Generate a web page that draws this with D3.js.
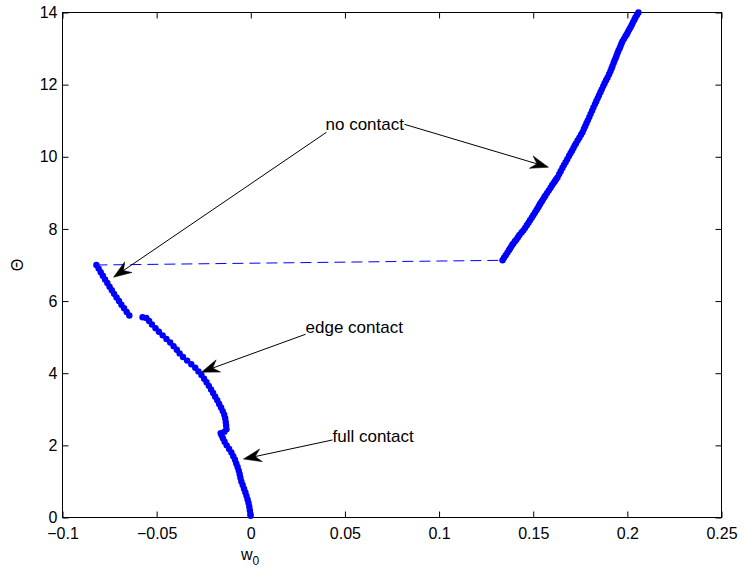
<!DOCTYPE html>
<html>
<head>
<meta charset="utf-8">
<script src="https://cdn.jsdelivr.net/npm/d3@7"></script>
<style>
  html, body { margin: 0; padding: 0; background: #fff; }
  svg { display: block; font-family: "Liberation Sans", Arial, Helvetica, sans-serif; }
</style>
</head>
<body>
<svg id="chart" width="744" height="574"></svg>
<script>
// ---------------- data ----------------
// no-contact -> edge branch (upper-left short segment)
const segA_w0 = [-0.0820, -0.0808, -0.0797, -0.0786, -0.0774, -0.0762, -0.0750, -0.0738, -0.0726, -0.0713, -0.0700, -0.0687, -0.0673, -0.0659, -0.0645];
const segA_theta = [7.00, 6.90, 6.80, 6.70, 6.60, 6.50, 6.40, 6.30, 6.20, 6.10, 6.00, 5.90, 5.80, 5.70, 5.60];

// edge contact + full contact branch
const segB_w0 = [-0.0575, -0.0555, -0.0540, -0.0525, -0.0506, -0.0488, -0.0468, -0.0448, -0.0428, -0.0410,
                 -0.0393, -0.0378, -0.0360, -0.0338, -0.0316, -0.0295, -0.0278, -0.0262, -0.0248, -0.0235,
                 -0.0223, -0.0211, -0.0200, -0.0189, -0.0178, -0.0168, -0.0158, -0.0149, -0.0141, -0.0136,
                 -0.0133, -0.0131, -0.0129, -0.0140, -0.0160, -0.0155, -0.0148, -0.0139, -0.0128, -0.0115,
                 -0.0103, -0.0093, -0.0084, -0.0077, -0.0070, -0.0064, -0.0059, -0.0055, -0.0050, -0.0043,
                 -0.0036, -0.0029, -0.0023, -0.0017, -0.0012, -0.0008, -0.0005, -0.0002, -0.0001];
const segB_theta = [5.55, 5.53, 5.45, 5.35, 5.25, 5.15, 5.05, 4.95, 4.85, 4.75,
                    4.65, 4.55, 4.45, 4.35, 4.25, 4.15, 4.05, 3.95, 3.85, 3.75,
                    3.65, 3.55, 3.45, 3.35, 3.25, 3.15, 3.05, 2.95, 2.85, 2.75,
                    2.65, 2.55, 2.45, 2.38, 2.34, 2.28, 2.20, 2.10, 2.00, 1.90,
                    1.80, 1.70, 1.60, 1.50, 1.40, 1.30, 1.20, 1.10, 1.00, 0.90,
                    0.80, 0.70, 0.60, 0.50, 0.40, 0.30, 0.20, 0.10, 0.05];

// no contact branch (right)
const segC_w0 = [0.1337, 0.1345, 0.1354, 0.1363, 0.1371, 0.1377, 0.1383, 0.1389, 0.1395, 0.1403,
                 0.1411, 0.1419, 0.1427, 0.1438, 0.1448, 0.1457, 0.1466, 0.1475, 0.1483, 0.1492,
                 0.1500, 0.1509, 0.1517, 0.1523, 0.1529, 0.1534, 0.1539, 0.1546, 0.1552, 0.1559,
                 0.1565, 0.1574, 0.1583, 0.1592, 0.1600, 0.1608, 0.1615, 0.1622, 0.1629, 0.1638,
                 0.1646, 0.1655, 0.1663, 0.1672, 0.1681, 0.1690, 0.1698, 0.1706, 0.1713, 0.1720,
                 0.1727, 0.1736, 0.1745, 0.1754, 0.1762, 0.1769, 0.1776, 0.1783, 0.1790, 0.1798,
                 0.1805, 0.1813, 0.1820, 0.1828, 0.1835, 0.1842, 0.1849, 0.1857, 0.1864, 0.1872,
                 0.1879, 0.1887, 0.1895, 0.1903, 0.1910, 0.1916, 0.1921, 0.1927, 0.1932, 0.1938,
                 0.1943, 0.1948, 0.1953, 0.1959, 0.1964, 0.1969, 0.1974, 0.1982, 0.1990, 0.1997,
                 0.2003, 0.2010, 0.2017, 0.2024, 0.2030, 0.2037, 0.2043, 0.2051, 0.2059];
const segC_theta = [7.13, 7.20, 7.27, 7.34, 7.41, 7.46, 7.51, 7.56, 7.60, 7.66,
                    7.71, 7.77, 7.83, 7.90, 7.96, 8.03, 8.10, 8.17, 8.24, 8.31,
                    8.38, 8.45, 8.52, 8.57, 8.62, 8.67, 8.71, 8.77, 8.82, 8.88,
                    8.93, 9.00, 9.07, 9.14, 9.21, 9.27, 9.32, 9.38, 9.43, 9.52,
                    9.60, 9.69, 9.77, 9.85, 9.93, 10.02, 10.10, 10.17, 10.24, 10.31,
                    10.37, 10.45, 10.53, 10.61, 10.68, 10.77, 10.85, 10.93, 11.01, 11.10,
                    11.19, 11.28, 11.37, 11.46, 11.54, 11.62, 11.70, 11.79, 11.87, 11.96,
                    12.04, 12.12, 12.20, 12.29, 12.37, 12.45, 12.52, 12.60, 12.67, 12.74,
                    12.81, 12.88, 12.95, 13.01, 13.07, 13.14, 13.20, 13.27, 13.34, 13.40,
                    13.46, 13.53, 13.59, 13.66, 13.73, 13.80, 13.86, 13.93, 14.00];

// dashed jump line
const jump_w0 = [-0.0820, 0.1337];
const jump_theta = [7.00, 7.13];

// ticks
const xTicks = [-0.1, -0.05, 0, 0.05, 0.1, 0.15, 0.2, 0.25];
const xTickLabels = ["\u22120.1", "\u22120.05", "0", "0.05", "0.1", "0.15", "0.2", "0.25"];
const yTicks = [0, 2, 4, 6, 8, 10, 12, 14];
const yTickLabels = ["0", "2", "4", "6", "8", "10", "12", "14"];

// annotations: label, label anchor (w0, theta), arrow tail, arrow tip
const annLabels = ["no contact", "no contact", "edge contact", "full contact"];
const annShowText = [true, false, true, true];
const annTextW0 = [0.0397, 0.0397, 0.0291, 0.0434];
const annTextTheta = [10.73, 10.73, 5.11, 2.08];
const annTailW0 = [0.0816, 0.0402, 0.0291, 0.0434];
const annTailTheta = [10.90, 10.68, 5.08, 2.15];
const annTipW0 = [0.1581, -0.0729, -0.0262, -0.0039];
const annTipTheta = [9.71, 6.66, 4.03, 1.62];

// ---------------- drawing ----------------
const svg = d3.select("#chart");
const x = d3.scaleLinear().domain([-0.1, 0.25]).range([62.5, 721.5]);
const y = d3.scaleLinear().domain([0, 14]).range([517.5, 12.5]);
const blue = "#0000ff";
const fontSize = 16;
const annFontSize = 17;

const zip = (a, b) => a.map((v, i) => [v, b[i]]);
const line = d3.line().x(d => x(d[0])).y(d => y(d[1]));

// box
svg.append("rect")
  .attr("x", x.range()[0]).attr("y", y.range()[1])
  .attr("width", x.range()[1] - x.range()[0])
  .attr("height", y.range()[0] - y.range()[1])
  .attr("fill", "none").attr("stroke", "#000").attr("stroke-width", 1);

const tickLen = 6;
const gx = svg.append("g").attr("transform", `translate(0,${y.range()[0]})`)
  .call(d3.axisBottom(x).tickValues(xTicks).tickSize(-tickLen).tickPadding(10)
        .tickFormat((d, i) => xTickLabels[i]));
const gxt = svg.append("g").attr("transform", `translate(0,${y.range()[1]})`)
  .call(d3.axisTop(x).tickValues(xTicks).tickSize(-tickLen).tickFormat(""));
const gy = svg.append("g").attr("transform", `translate(${x.range()[0]},0)`)
  .call(d3.axisLeft(y).tickValues(yTicks).tickSize(-tickLen).tickPadding(5)
        .tickFormat((d, i) => yTickLabels[i]));
const gyr = svg.append("g").attr("transform", `translate(${x.range()[1]},0)`)
  .call(d3.axisRight(y).tickValues(yTicks).tickSize(-tickLen).tickFormat(""));

[gx, gxt, gy, gyr].forEach(g => {
  g.select(".domain").remove();
  g.selectAll(".tick line").attr("stroke", "#000");
  g.selectAll("text").attr("font-size", fontSize)
    .attr("font-family", "'Liberation Sans', Arial, sans-serif").attr("fill", "#000");
});

// axis labels
const xl = svg.append("text").attr("x", 250).attr("y", 560)
  .attr("text-anchor", "middle").attr("font-size", fontSize).attr("fill", "#000");
xl.append("tspan").text("w");
xl.append("tspan").text("0").attr("font-size", 12).attr("dy", 5);

svg.append("text")
  .attr("transform", "translate(23,265) rotate(-90)")
  .attr("text-anchor", "middle").attr("font-size", fontSize).attr("fill", "#000")
  .text("\u0398");

// dashed jump
svg.append("path").datum(zip(jump_w0, jump_theta))
  .attr("d", line).attr("fill", "none").attr("stroke", blue)
  .attr("stroke-width", 1).attr("stroke-dasharray", "11,6");

// solution branches
[[segA_w0, segA_theta], [segB_w0, segB_theta], [segC_w0, segC_theta]].forEach(([xs, ys]) => {
  const pts = zip(xs, ys);
  svg.append("path").datum(pts).attr("d", line)
    .attr("fill", "none").attr("stroke", blue).attr("stroke-width", 1);
  svg.append("g").selectAll("circle").data(pts).join("circle")
    .attr("cx", d => x(d[0])).attr("cy", d => y(d[1])).attr("r", 3.2)
    .attr("fill", blue);
});

// annotations
const headL = 18, headW = 6.5, notch = 12;
annLabels.forEach((lab, i) => {
  const tx = x(annTailW0[i]), ty = y(annTailTheta[i]);
  const px = x(annTipW0[i]), py = y(annTipTheta[i]);
  const dx = tx - px, dy = ty - py, len = Math.hypot(dx, dy);
  const ux = dx / len, uy = dy / len, nx = -uy, ny = ux;
  const nX = px + ux * notch, nY = py + uy * notch;
  svg.append("line").attr("x1", tx).attr("y1", ty).attr("x2", nX).attr("y2", nY)
    .attr("stroke", "#000").attr("stroke-width", 1);
  const head = [
    [px, py],
    [px + ux * headL + nx * headW, py + uy * headL + ny * headW],
    [nX, nY],
    [px + ux * headL - nx * headW, py + uy * headL - ny * headW]
  ];
  svg.append("path").attr("d", "M" + head.map(p => p.join(",")).join("L") + "Z")
    .attr("fill", "#000").attr("stroke", "#000").attr("stroke-width", 0.5);
  if (annShowText[i]) {
    svg.append("text").attr("x", x(annTextW0[i])).attr("y", y(annTextTheta[i]))
      .attr("font-size", annFontSize).attr("fill", "#000").text(lab);
  }
});
</script>
</body>
</html>
